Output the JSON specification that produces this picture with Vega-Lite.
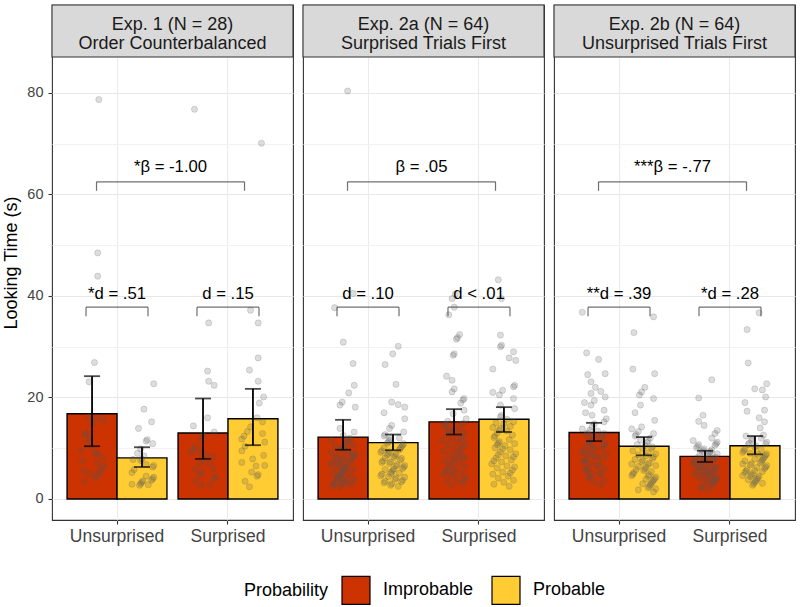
{
"$schema": "https://vega.github.io/schema/vega-lite/v6.json",
"padding": {"left": 2, "top": 3, "right": 4, "bottom": 4},
"background": "white",
"config": {
  "font": "Liberation Sans",
  "view": {"stroke": "#333333", "strokeWidth": 1.1},
  "axis": {"labelFont": "Liberation Sans", "titleFont": "Liberation Sans", "domain": false, "tickColor": "#333333", "tickSize": 4, "tickWidth": 1.1, "labelColor": "#444444", "gridColor": "#ebebeb", "gridWidth": 1.1, "titleFontWeight": "normal", "titleColor": "#000000"},
  "legend": {"orient": "none", "legendX": 192, "legendY": 570, "direction": "horizontal", "titleOrient": "left", "titleFontSize": 18, "labelFontSize": 18, "titleFontWeight": "normal", "titleColor": "#000000", "labelColor": "#000000", "symbolType": "square", "symbolSize": 784, "symbolStrokeColor": "#000000", "symbolStrokeWidth": 1.2, "symbolOpacity": 1, "titlePadding": 12, "labelOffset": 12, "columnPadding": 15, "labelFont": "Liberation Sans", "titleFont": "Liberation Sans"},
  "text": {"font": "Liberation Sans"}
},
"data": {"values": [
{"t":"s","e":"1","l":["Exp. 1 (N = 28)","Order Counterbalanced"]},
{"t":"s","e":"2a","l":["Exp. 2a (N = 64)","Surprised Trials First"]},
{"t":"s","e":"2b","l":["Exp. 2b (N = 64)","Unsurprised Trials First"]},
{"t":"m","e":"1","c":"U","p":"I","v":16.8,"lo":10.4,"hi":24.2},
{"t":"m","e":"1","c":"U","p":"P","v":8.1,"lo":6.3,"hi":10.2},
{"t":"m","e":"1","c":"S","p":"I","v":13.0,"lo":7.9,"hi":19.8},
{"t":"m","e":"1","c":"S","p":"P","v":15.8,"lo":10.6,"hi":21.7},
{"t":"m","e":"2a","c":"U","p":"I","v":12.2,"lo":9.7,"hi":15.6},
{"t":"m","e":"2a","c":"U","p":"P","v":11.1,"lo":9.6,"hi":12.7},
{"t":"m","e":"2a","c":"S","p":"I","v":15.2,"lo":12.7,"hi":17.7},
{"t":"m","e":"2a","c":"S","p":"P","v":15.7,"lo":13.2,"hi":18.1},
{"t":"m","e":"2b","c":"U","p":"I","v":13.1,"lo":11.4,"hi":15.0},
{"t":"m","e":"2b","c":"U","p":"P","v":10.4,"lo":8.6,"hi":12.2},
{"t":"m","e":"2b","c":"S","p":"I","v":8.4,"lo":7.3,"hi":9.5},
{"t":"m","e":"2b","c":"S","p":"P","v":10.5,"lo":8.8,"hi":12.4},
{"t":"d","e":"1","c":"U","l":"*d = .51"},
{"t":"d","e":"1","c":"S","l":"d = .15"},
{"t":"d","e":"2a","c":"U","l":"d = .10"},
{"t":"d","e":"2a","c":"S","l":"d < .01"},
{"t":"d","e":"2b","c":"U","l":"**d = .39"},
{"t":"d","e":"2b","c":"S","l":"*d = .28"},
{"t":"b","e":"1","l":"*β = -1.00"},
{"t":"b","e":"2a","l":"β = .05"},
{"t":"b","e":"2b","l":"***β = -.77"},
{"e":"1","c":"U","p":"I","v":78.7},{"e":"1","c":"U","p":"I","v":48.5},{"e":"1","c":"U","p":"I","v":43.9},{"e":"1","c":"U","p":"I","v":26.9},{"e":"1","c":"U","p":"I","v":23.1},{"e":"1","c":"U","p":"I","v":16.2},{"e":"1","c":"U","p":"I","v":16.0},{"e":"1","c":"U","p":"I","v":14.8},{"e":"1","c":"U","p":"I","v":12.7},{"e":"1","c":"U","p":"I","v":11.9},{"e":"1","c":"U","p":"I","v":10.2},{"e":"1","c":"U","p":"I","v":8.8},{"e":"1","c":"U","p":"I","v":9.1},{"e":"1","c":"U","p":"I","v":8.3},{"e":"1","c":"U","p":"I","v":7.1},{"e":"1","c":"U","p":"I","v":6.6},{"e":"1","c":"U","p":"I","v":5.5},{"e":"1","c":"U","p":"I","v":5.4},{"e":"1","c":"U","p":"I","v":4.8},{"e":"1","c":"U","p":"I","v":4.2},{"e":"1","c":"U","p":"I","v":6.0},{"e":"1","c":"U","p":"I","v":13.0},{"e":"1","c":"U","p":"I","v":9.5},{"e":"1","c":"U","p":"I","v":7.5},{"e":"1","c":"U","p":"I","v":5.0},{"e":"1","c":"U","p":"I","v":3.5},{"e":"1","c":"U","p":"I","v":11.0},{"e":"1","c":"U","p":"I","v":15.5},
{"e":"1","c":"U","p":"P","v":22.7},{"e":"1","c":"U","p":"P","v":17.7},{"e":"1","c":"U","p":"P","v":15.2},{"e":"1","c":"U","p":"P","v":13.9},{"e":"1","c":"U","p":"P","v":11.7},{"e":"1","c":"U","p":"P","v":11.4},{"e":"1","c":"U","p":"P","v":10.9},{"e":"1","c":"U","p":"P","v":9.9},{"e":"1","c":"U","p":"P","v":7.9},{"e":"1","c":"U","p":"P","v":7.8},{"e":"1","c":"U","p":"P","v":7.6},{"e":"1","c":"U","p":"P","v":6.6},{"e":"1","c":"U","p":"P","v":6.3},{"e":"1","c":"U","p":"P","v":4.3},{"e":"1","c":"U","p":"P","v":4.5},{"e":"1","c":"U","p":"P","v":3.7},{"e":"1","c":"U","p":"P","v":2.7},{"e":"1","c":"U","p":"P","v":3.0},{"e":"1","c":"U","p":"P","v":2.8},{"e":"1","c":"U","p":"P","v":5.2},{"e":"1","c":"U","p":"P","v":4.0},{"e":"1","c":"U","p":"P","v":6.8},{"e":"1","c":"U","p":"P","v":3.3},{"e":"1","c":"U","p":"P","v":8.5},{"e":"1","c":"U","p":"P","v":5.8},{"e":"1","c":"U","p":"P","v":3.6},{"e":"1","c":"U","p":"P","v":9.0},{"e":"1","c":"U","p":"P","v":2.9},
{"e":"1","c":"S","p":"I","v":76.8},{"e":"1","c":"S","p":"I","v":34.7},{"e":"1","c":"S","p":"I","v":25.2},{"e":"1","c":"S","p":"I","v":23.2},{"e":"1","c":"S","p":"I","v":22.4},{"e":"1","c":"S","p":"I","v":16.0},{"e":"1","c":"S","p":"I","v":14.4},{"e":"1","c":"S","p":"I","v":13.2},{"e":"1","c":"S","p":"I","v":11.9},{"e":"1","c":"S","p":"I","v":10.4},{"e":"1","c":"S","p":"I","v":7.9},{"e":"1","c":"S","p":"I","v":9.3},{"e":"1","c":"S","p":"I","v":9.2},{"e":"1","c":"S","p":"I","v":8.3},{"e":"1","c":"S","p":"I","v":7.0},{"e":"1","c":"S","p":"I","v":7.1},{"e":"1","c":"S","p":"I","v":4.7},{"e":"1","c":"S","p":"I","v":5.3},{"e":"1","c":"S","p":"I","v":2.8},{"e":"1","c":"S","p":"I","v":2.7},{"e":"1","c":"S","p":"I","v":4.3},{"e":"1","c":"S","p":"I","v":6.0},{"e":"1","c":"S","p":"I","v":3.5},{"e":"1","c":"S","p":"I","v":12.5},{"e":"1","c":"S","p":"I","v":5.8},{"e":"1","c":"S","p":"I","v":9.8},{"e":"1","c":"S","p":"I","v":4.0},{"e":"1","c":"S","p":"I","v":8.8},
{"e":"1","c":"S","p":"P","v":70.1},{"e":"1","c":"S","p":"P","v":37.2},{"e":"1","c":"S","p":"P","v":34.7},{"e":"1","c":"S","p":"P","v":27.8},{"e":"1","c":"S","p":"P","v":25.4},{"e":"1","c":"S","p":"P","v":23.2},{"e":"1","c":"S","p":"P","v":20.1},{"e":"1","c":"S","p":"P","v":18.9},{"e":"1","c":"S","p":"P","v":16.0},{"e":"1","c":"S","p":"P","v":14.2},{"e":"1","c":"S","p":"P","v":12.4},{"e":"1","c":"S","p":"P","v":12.9},{"e":"1","c":"S","p":"P","v":13.3},{"e":"1","c":"S","p":"P","v":11.2},{"e":"1","c":"S","p":"P","v":10.4},{"e":"1","c":"S","p":"P","v":8.6},{"e":"1","c":"S","p":"P","v":7.9},{"e":"1","c":"S","p":"P","v":6.6},{"e":"1","c":"S","p":"P","v":5.3},{"e":"1","c":"S","p":"P","v":4.8},{"e":"1","c":"S","p":"P","v":4.5},{"e":"1","c":"S","p":"P","v":3.5},{"e":"1","c":"S","p":"P","v":2.4},{"e":"1","c":"S","p":"P","v":6.5},{"e":"1","c":"S","p":"P","v":9.5},{"e":"1","c":"S","p":"P","v":15.2},{"e":"1","c":"S","p":"P","v":11.8},{"e":"1","c":"S","p":"P","v":7.2},
{"e":"2a","c":"U","p":"I","v":80.4},{"e":"2a","c":"U","p":"I","v":40.5},{"e":"2a","c":"U","p":"I","v":37.7},{"e":"2a","c":"U","p":"I","v":30.9},{"e":"2a","c":"U","p":"I","v":26.7},{"e":"2a","c":"U","p":"I","v":22.4},{"e":"2a","c":"U","p":"I","v":20.9},{"e":"2a","c":"U","p":"I","v":19.1},{"e":"2a","c":"U","p":"I","v":18.5},{"e":"2a","c":"U","p":"I","v":18.1},{"e":"2a","c":"U","p":"I","v":13.9},{"e":"2a","c":"U","p":"I","v":13.2},{"e":"2a","c":"U","p":"I","v":12.5},
{"e":"2a","c":"U","p":"I","v":12.0},{"e":"2a","c":"U","p":"I","v":11.5},{"e":"2a","c":"U","p":"I","v":11.1},{"e":"2a","c":"U","p":"I","v":10.8},{"e":"2a","c":"U","p":"I","v":10.4},{"e":"2a","c":"U","p":"I","v":10.2},{"e":"2a","c":"U","p":"I","v":9.9},{"e":"2a","c":"U","p":"I","v":9.6},{"e":"2a","c":"U","p":"I","v":9.4},{"e":"2a","c":"U","p":"I","v":9.1},{"e":"2a","c":"U","p":"I","v":8.9},{"e":"2a","c":"U","p":"I","v":8.6},{"e":"2a","c":"U","p":"I","v":8.4},{"e":"2a","c":"U","p":"I","v":8.1},{"e":"2a","c":"U","p":"I","v":7.9},{"e":"2a","c":"U","p":"I","v":7.7},{"e":"2a","c":"U","p":"I","v":7.4},{"e":"2a","c":"U","p":"I","v":7.2},{"e":"2a","c":"U","p":"I","v":7.0},{"e":"2a","c":"U","p":"I","v":6.7},{"e":"2a","c":"U","p":"I","v":6.5},{"e":"2a","c":"U","p":"I","v":6.2},{"e":"2a","c":"U","p":"I","v":6.0},{"e":"2a","c":"U","p":"I","v":5.8},{"e":"2a","c":"U","p":"I","v":5.6},{"e":"2a","c":"U","p":"I","v":5.3},{"e":"2a","c":"U","p":"I","v":5.1},{"e":"2a","c":"U","p":"I","v":4.9},{"e":"2a","c":"U","p":"I","v":4.7},{"e":"2a","c":"U","p":"I","v":4.4},{"e":"2a","c":"U","p":"I","v":4.2},{"e":"2a","c":"U","p":"I","v":4.0},{"e":"2a","c":"U","p":"I","v":3.8},{"e":"2a","c":"U","p":"I","v":3.6},{"e":"2a","c":"U","p":"I","v":3.4},{"e":"2a","c":"U","p":"I","v":3.2},{"e":"2a","c":"U","p":"I","v":3.0},{"e":"2a","c":"U","p":"I","v":2.8},{"e":"2a","c":"U","p":"I","v":2.6},{"e":"2a","c":"U","p":"I","v":2.4},{"e":"2a","c":"U","p":"I","v":11.7},{"e":"2a","c":"U","p":"I","v":10.6},{"e":"2a","c":"U","p":"I","v":9.2},{"e":"2a","c":"U","p":"I","v":8.3},{"e":"2a","c":"U","p":"I","v":7.6},{"e":"2a","c":"U","p":"I","v":6.9},{"e":"2a","c":"U","p":"I","v":5.9},{"e":"2a","c":"U","p":"I","v":5.0},{"e":"2a","c":"U","p":"I","v":4.1},{"e":"2a","c":"U","p":"I","v":3.3},{"e":"2a","c":"U","p":"I","v":2.9},
{"e":"2a","c":"U","p":"P","v":30.1},{"e":"2a","c":"U","p":"P","v":28.6},{"e":"2a","c":"U","p":"P","v":26.5},{"e":"2a","c":"U","p":"P","v":22.6},{"e":"2a","c":"U","p":"P","v":19.1},{"e":"2a","c":"U","p":"P","v":18.6},{"e":"2a","c":"U","p":"P","v":18.1},{"e":"2a","c":"U","p":"P","v":15.8},{"e":"2a","c":"U","p":"P","v":13.9},{"e":"2a","c":"U","p":"P","v":13.2},{"e":"2a","c":"U","p":"P","v":14.5},{"e":"2a","c":"U","p":"P","v":17.0},
{"e":"2a","c":"U","p":"P","v":12.4},{"e":"2a","c":"U","p":"P","v":12.0},{"e":"2a","c":"U","p":"P","v":11.6},{"e":"2a","c":"U","p":"P","v":11.3},{"e":"2a","c":"U","p":"P","v":10.9},{"e":"2a","c":"U","p":"P","v":10.6},{"e":"2a","c":"U","p":"P","v":10.3},{"e":"2a","c":"U","p":"P","v":10.0},{"e":"2a","c":"U","p":"P","v":9.7},{"e":"2a","c":"U","p":"P","v":9.5},{"e":"2a","c":"U","p":"P","v":9.2},{"e":"2a","c":"U","p":"P","v":9.0},{"e":"2a","c":"U","p":"P","v":8.7},{"e":"2a","c":"U","p":"P","v":8.5},{"e":"2a","c":"U","p":"P","v":8.2},{"e":"2a","c":"U","p":"P","v":8.0},{"e":"2a","c":"U","p":"P","v":7.7},{"e":"2a","c":"U","p":"P","v":7.5},{"e":"2a","c":"U","p":"P","v":7.2},{"e":"2a","c":"U","p":"P","v":7.0},{"e":"2a","c":"U","p":"P","v":6.8},{"e":"2a","c":"U","p":"P","v":6.5},{"e":"2a","c":"U","p":"P","v":6.3},{"e":"2a","c":"U","p":"P","v":6.0},{"e":"2a","c":"U","p":"P","v":5.8},{"e":"2a","c":"U","p":"P","v":5.6},{"e":"2a","c":"U","p":"P","v":5.3},{"e":"2a","c":"U","p":"P","v":5.1},{"e":"2a","c":"U","p":"P","v":4.9},{"e":"2a","c":"U","p":"P","v":4.6},{"e":"2a","c":"U","p":"P","v":4.4},{"e":"2a","c":"U","p":"P","v":4.2},{"e":"2a","c":"U","p":"P","v":3.9},{"e":"2a","c":"U","p":"P","v":3.7},{"e":"2a","c":"U","p":"P","v":3.5},{"e":"2a","c":"U","p":"P","v":3.2},{"e":"2a","c":"U","p":"P","v":3.0},{"e":"2a","c":"U","p":"P","v":2.7},{"e":"2a","c":"U","p":"P","v":12.7},{"e":"2a","c":"U","p":"P","v":11.9},{"e":"2a","c":"U","p":"P","v":11.0},{"e":"2a","c":"U","p":"P","v":10.1},{"e":"2a","c":"U","p":"P","v":9.3},{"e":"2a","c":"U","p":"P","v":8.8},{"e":"2a","c":"U","p":"P","v":8.1},{"e":"2a","c":"U","p":"P","v":7.3},{"e":"2a","c":"U","p":"P","v":6.6},{"e":"2a","c":"U","p":"P","v":5.9},{"e":"2a","c":"U","p":"P","v":5.0},{"e":"2a","c":"U","p":"P","v":4.3},{"e":"2a","c":"U","p":"P","v":3.4},{"e":"2a","c":"U","p":"P","v":2.5},
{"e":"2a","c":"S","p":"I","v":40.4},{"e":"2a","c":"S","p":"I","v":39.5},{"e":"2a","c":"S","p":"I","v":37.8},{"e":"2a","c":"S","p":"I","v":36.3},{"e":"2a","c":"S","p":"I","v":32.4},{"e":"2a","c":"S","p":"I","v":31.8},{"e":"2a","c":"S","p":"I","v":31.5},{"e":"2a","c":"S","p":"I","v":28.6},{"e":"2a","c":"S","p":"I","v":28.3},{"e":"2a","c":"S","p":"I","v":24.2},{"e":"2a","c":"S","p":"I","v":23.4},{"e":"2a","c":"S","p":"I","v":21.7},{"e":"2a","c":"S","p":"I","v":21.1},{"e":"2a","c":"S","p":"I","v":19.8},{"e":"2a","c":"S","p":"I","v":19.5},{"e":"2a","c":"S","p":"I","v":16.8},{"e":"2a","c":"S","p":"I","v":17.5},{"e":"2a","c":"S","p":"I","v":18.9},
{"e":"2a","c":"S","p":"I","v":15.8},{"e":"2a","c":"S","p":"I","v":15.3},{"e":"2a","c":"S","p":"I","v":14.9},{"e":"2a","c":"S","p":"I","v":14.4},{"e":"2a","c":"S","p":"I","v":14.0},{"e":"2a","c":"S","p":"I","v":13.6},{"e":"2a","c":"S","p":"I","v":13.1},{"e":"2a","c":"S","p":"I","v":12.7},{"e":"2a","c":"S","p":"I","v":12.3},{"e":"2a","c":"S","p":"I","v":11.9},{"e":"2a","c":"S","p":"I","v":11.5},{"e":"2a","c":"S","p":"I","v":11.1},{"e":"2a","c":"S","p":"I","v":10.7},{"e":"2a","c":"S","p":"I","v":10.3},{"e":"2a","c":"S","p":"I","v":9.9},{"e":"2a","c":"S","p":"I","v":9.5},{"e":"2a","c":"S","p":"I","v":9.1},{"e":"2a","c":"S","p":"I","v":8.7},{"e":"2a","c":"S","p":"I","v":8.3},{"e":"2a","c":"S","p":"I","v":7.9},{"e":"2a","c":"S","p":"I","v":7.5},{"e":"2a","c":"S","p":"I","v":7.1},{"e":"2a","c":"S","p":"I","v":6.7},{"e":"2a","c":"S","p":"I","v":6.3},{"e":"2a","c":"S","p":"I","v":5.9},{"e":"2a","c":"S","p":"I","v":5.5},{"e":"2a","c":"S","p":"I","v":5.1},{"e":"2a","c":"S","p":"I","v":4.7},{"e":"2a","c":"S","p":"I","v":4.3},{"e":"2a","c":"S","p":"I","v":3.9},{"e":"2a","c":"S","p":"I","v":3.5},{"e":"2a","c":"S","p":"I","v":3.1},{"e":"2a","c":"S","p":"I","v":2.7},{"e":"2a","c":"S","p":"I","v":14.7},{"e":"2a","c":"S","p":"I","v":13.3},{"e":"2a","c":"S","p":"I","v":12.0},{"e":"2a","c":"S","p":"I","v":10.9},{"e":"2a","c":"S","p":"I","v":9.7},{"e":"2a","c":"S","p":"I","v":8.5},{"e":"2a","c":"S","p":"I","v":7.3},{"e":"2a","c":"S","p":"I","v":6.1},{"e":"2a","c":"S","p":"I","v":4.9},{"e":"2a","c":"S","p":"I","v":3.7},{"e":"2a","c":"S","p":"I","v":12.9},{"e":"2a","c":"S","p":"I","v":8.0},{"e":"2a","c":"S","p":"I","v":5.3},
{"e":"2a","c":"S","p":"P","v":43.2},{"e":"2a","c":"S","p":"P","v":39.5},{"e":"2a","c":"S","p":"P","v":32.3},{"e":"2a","c":"S","p":"P","v":30.3},{"e":"2a","c":"S","p":"P","v":30.0},{"e":"2a","c":"S","p":"P","v":29.0},{"e":"2a","c":"S","p":"P","v":27.3},{"e":"2a","c":"S","p":"P","v":27.8},{"e":"2a","c":"S","p":"P","v":25.6},{"e":"2a","c":"S","p":"P","v":22.4},{"e":"2a","c":"S","p":"P","v":21.4},{"e":"2a","c":"S","p":"P","v":22.1},{"e":"2a","c":"S","p":"P","v":19.8},{"e":"2a","c":"S","p":"P","v":18.5},{"e":"2a","c":"S","p":"P","v":20.5},{"e":"2a","c":"S","p":"P","v":21.0},{"e":"2a","c":"S","p":"P","v":17.8},{"e":"2a","c":"S","p":"P","v":16.5},
{"e":"2a","c":"S","p":"P","v":16.2},{"e":"2a","c":"S","p":"P","v":15.7},{"e":"2a","c":"S","p":"P","v":15.2},{"e":"2a","c":"S","p":"P","v":14.8},{"e":"2a","c":"S","p":"P","v":14.3},{"e":"2a","c":"S","p":"P","v":13.9},{"e":"2a","c":"S","p":"P","v":13.4},{"e":"2a","c":"S","p":"P","v":13.0},{"e":"2a","c":"S","p":"P","v":12.6},{"e":"2a","c":"S","p":"P","v":12.1},{"e":"2a","c":"S","p":"P","v":11.7},{"e":"2a","c":"S","p":"P","v":11.3},{"e":"2a","c":"S","p":"P","v":10.9},{"e":"2a","c":"S","p":"P","v":10.5},{"e":"2a","c":"S","p":"P","v":10.1},{"e":"2a","c":"S","p":"P","v":9.7},{"e":"2a","c":"S","p":"P","v":9.3},{"e":"2a","c":"S","p":"P","v":8.9},{"e":"2a","c":"S","p":"P","v":8.5},{"e":"2a","c":"S","p":"P","v":8.1},{"e":"2a","c":"S","p":"P","v":7.7},{"e":"2a","c":"S","p":"P","v":7.3},{"e":"2a","c":"S","p":"P","v":6.9},{"e":"2a","c":"S","p":"P","v":6.5},{"e":"2a","c":"S","p":"P","v":6.1},{"e":"2a","c":"S","p":"P","v":5.7},{"e":"2a","c":"S","p":"P","v":5.3},{"e":"2a","c":"S","p":"P","v":4.9},{"e":"2a","c":"S","p":"P","v":4.5},{"e":"2a","c":"S","p":"P","v":4.1},{"e":"2a","c":"S","p":"P","v":3.7},{"e":"2a","c":"S","p":"P","v":3.3},{"e":"2a","c":"S","p":"P","v":2.9},{"e":"2a","c":"S","p":"P","v":2.5},{"e":"2a","c":"S","p":"P","v":15.0},{"e":"2a","c":"S","p":"P","v":13.6},{"e":"2a","c":"S","p":"P","v":12.4},{"e":"2a","c":"S","p":"P","v":11.0},{"e":"2a","c":"S","p":"P","v":9.9},{"e":"2a","c":"S","p":"P","v":8.7},{"e":"2a","c":"S","p":"P","v":7.5},{"e":"2a","c":"S","p":"P","v":6.3},{"e":"2a","c":"S","p":"P","v":5.1},{"e":"2a","c":"S","p":"P","v":14.1},{"e":"2a","c":"S","p":"P","v":10.7},{"e":"2a","c":"S","p":"P","v":8.3},
{"e":"2b","c":"U","p":"I","v":36.8},{"e":"2b","c":"U","p":"I","v":28.8},{"e":"2b","c":"U","p":"I","v":27.5},{"e":"2b","c":"U","p":"I","v":24.7},{"e":"2b","c":"U","p":"I","v":24.5},{"e":"2b","c":"U","p":"I","v":23.1},{"e":"2b","c":"U","p":"I","v":21.2},{"e":"2b","c":"U","p":"I","v":20.1},{"e":"2b","c":"U","p":"I","v":19.4},{"e":"2b","c":"U","p":"I","v":18.5},{"e":"2b","c":"U","p":"I","v":17.5},{"e":"2b","c":"U","p":"I","v":16.5},{"e":"2b","c":"U","p":"I","v":22.0},{"e":"2b","c":"U","p":"I","v":20.8},{"e":"2b","c":"U","p":"I","v":19.0},{"e":"2b","c":"U","p":"I","v":17.0},{"e":"2b","c":"U","p":"I","v":15.8},{"e":"2b","c":"U","p":"I","v":15.2},{"e":"2b","c":"U","p":"I","v":14.8},
{"e":"2b","c":"U","p":"I","v":14.2},{"e":"2b","c":"U","p":"I","v":13.8},{"e":"2b","c":"U","p":"I","v":13.4},{"e":"2b","c":"U","p":"I","v":13.0},{"e":"2b","c":"U","p":"I","v":12.7},{"e":"2b","c":"U","p":"I","v":12.3},{"e":"2b","c":"U","p":"I","v":12.0},{"e":"2b","c":"U","p":"I","v":11.6},{"e":"2b","c":"U","p":"I","v":11.3},{"e":"2b","c":"U","p":"I","v":10.9},{"e":"2b","c":"U","p":"I","v":10.6},{"e":"2b","c":"U","p":"I","v":10.2},{"e":"2b","c":"U","p":"I","v":9.9},{"e":"2b","c":"U","p":"I","v":9.5},{"e":"2b","c":"U","p":"I","v":9.2},{"e":"2b","c":"U","p":"I","v":8.9},{"e":"2b","c":"U","p":"I","v":8.5},{"e":"2b","c":"U","p":"I","v":8.2},{"e":"2b","c":"U","p":"I","v":7.8},{"e":"2b","c":"U","p":"I","v":7.5},{"e":"2b","c":"U","p":"I","v":7.2},{"e":"2b","c":"U","p":"I","v":6.8},{"e":"2b","c":"U","p":"I","v":6.5},{"e":"2b","c":"U","p":"I","v":6.1},{"e":"2b","c":"U","p":"I","v":5.8},{"e":"2b","c":"U","p":"I","v":5.5},{"e":"2b","c":"U","p":"I","v":5.1},{"e":"2b","c":"U","p":"I","v":4.8},{"e":"2b","c":"U","p":"I","v":4.4},{"e":"2b","c":"U","p":"I","v":4.1},{"e":"2b","c":"U","p":"I","v":3.7},{"e":"2b","c":"U","p":"I","v":3.3},{"e":"2b","c":"U","p":"I","v":2.8},{"e":"2b","c":"U","p":"I","v":13.6},{"e":"2b","c":"U","p":"I","v":12.5},{"e":"2b","c":"U","p":"I","v":11.0},{"e":"2b","c":"U","p":"I","v":10.0},{"e":"2b","c":"U","p":"I","v":9.0},{"e":"2b","c":"U","p":"I","v":8.0},{"e":"2b","c":"U","p":"I","v":7.0},{"e":"2b","c":"U","p":"I","v":6.0},{"e":"2b","c":"U","p":"I","v":5.0},{"e":"2b","c":"U","p":"I","v":12.9},{"e":"2b","c":"U","p":"I","v":10.4},{"e":"2b","c":"U","p":"I","v":8.7},
{"e":"2b","c":"U","p":"P","v":35.9},{"e":"2b","c":"U","p":"P","v":32.8},{"e":"2b","c":"U","p":"P","v":25.6},{"e":"2b","c":"U","p":"P","v":24.7},{"e":"2b","c":"U","p":"P","v":21.1},{"e":"2b","c":"U","p":"P","v":19.8},{"e":"2b","c":"U","p":"P","v":18.5},{"e":"2b","c":"U","p":"P","v":15.5},{"e":"2b","c":"U","p":"P","v":14.2},{"e":"2b","c":"U","p":"P","v":22.0},{"e":"2b","c":"U","p":"P","v":20.5},{"e":"2b","c":"U","p":"P","v":17.0},
{"e":"2b","c":"U","p":"P","v":13.8},{"e":"2b","c":"U","p":"P","v":13.3},{"e":"2b","c":"U","p":"P","v":12.9},{"e":"2b","c":"U","p":"P","v":12.4},{"e":"2b","c":"U","p":"P","v":12.0},{"e":"2b","c":"U","p":"P","v":11.6},{"e":"2b","c":"U","p":"P","v":11.1},{"e":"2b","c":"U","p":"P","v":10.7},{"e":"2b","c":"U","p":"P","v":10.3},{"e":"2b","c":"U","p":"P","v":9.9},{"e":"2b","c":"U","p":"P","v":9.5},{"e":"2b","c":"U","p":"P","v":9.1},{"e":"2b","c":"U","p":"P","v":8.7},{"e":"2b","c":"U","p":"P","v":8.3},{"e":"2b","c":"U","p":"P","v":8.0},{"e":"2b","c":"U","p":"P","v":7.6},{"e":"2b","c":"U","p":"P","v":7.3},{"e":"2b","c":"U","p":"P","v":6.9},{"e":"2b","c":"U","p":"P","v":6.6},{"e":"2b","c":"U","p":"P","v":6.2},{"e":"2b","c":"U","p":"P","v":5.9},{"e":"2b","c":"U","p":"P","v":5.6},{"e":"2b","c":"U","p":"P","v":5.2},{"e":"2b","c":"U","p":"P","v":4.9},{"e":"2b","c":"U","p":"P","v":4.6},{"e":"2b","c":"U","p":"P","v":4.3},{"e":"2b","c":"U","p":"P","v":4.0},{"e":"2b","c":"U","p":"P","v":3.7},{"e":"2b","c":"U","p":"P","v":3.4},{"e":"2b","c":"U","p":"P","v":3.1},{"e":"2b","c":"U","p":"P","v":2.8},{"e":"2b","c":"U","p":"P","v":2.5},{"e":"2b","c":"U","p":"P","v":2.2},{"e":"2b","c":"U","p":"P","v":1.8},{"e":"2b","c":"U","p":"P","v":1.4},{"e":"2b","c":"U","p":"P","v":12.7},{"e":"2b","c":"U","p":"P","v":11.4},{"e":"2b","c":"U","p":"P","v":10.0},{"e":"2b","c":"U","p":"P","v":8.9},{"e":"2b","c":"U","p":"P","v":7.8},{"e":"2b","c":"U","p":"P","v":6.8},{"e":"2b","c":"U","p":"P","v":5.8},{"e":"2b","c":"U","p":"P","v":4.8},{"e":"2b","c":"U","p":"P","v":3.9},{"e":"2b","c":"U","p":"P","v":3.0},{"e":"2b","c":"U","p":"P","v":10.5},{"e":"2b","c":"U","p":"P","v":8.5},{"e":"2b","c":"U","p":"P","v":7.1},{"e":"2b","c":"U","p":"P","v":6.4},{"e":"2b","c":"U","p":"P","v":5.4},{"e":"2b","c":"U","p":"P","v":4.5},{"e":"2b","c":"U","p":"P","v":2.0},
{"e":"2b","c":"S","p":"I","v":23.5},{"e":"2b","c":"S","p":"I","v":19.9},{"e":"2b","c":"S","p":"I","v":16.5},{"e":"2b","c":"S","p":"I","v":15.3},{"e":"2b","c":"S","p":"I","v":14.5},{"e":"2b","c":"S","p":"I","v":12.9},{"e":"2b","c":"S","p":"I","v":13.5},{"e":"2b","c":"S","p":"I","v":12.0},{"e":"2b","c":"S","p":"I","v":11.5},
{"e":"2b","c":"S","p":"I","v":11.2},{"e":"2b","c":"S","p":"I","v":10.9},{"e":"2b","c":"S","p":"I","v":10.6},{"e":"2b","c":"S","p":"I","v":10.4},{"e":"2b","c":"S","p":"I","v":10.1},{"e":"2b","c":"S","p":"I","v":9.9},{"e":"2b","c":"S","p":"I","v":9.6},{"e":"2b","c":"S","p":"I","v":9.4},{"e":"2b","c":"S","p":"I","v":9.1},{"e":"2b","c":"S","p":"I","v":8.9},{"e":"2b","c":"S","p":"I","v":8.7},{"e":"2b","c":"S","p":"I","v":8.5},{"e":"2b","c":"S","p":"I","v":8.3},{"e":"2b","c":"S","p":"I","v":8.1},{"e":"2b","c":"S","p":"I","v":7.9},{"e":"2b","c":"S","p":"I","v":7.7},{"e":"2b","c":"S","p":"I","v":7.5},{"e":"2b","c":"S","p":"I","v":7.3},{"e":"2b","c":"S","p":"I","v":7.1},{"e":"2b","c":"S","p":"I","v":6.9},{"e":"2b","c":"S","p":"I","v":6.7},{"e":"2b","c":"S","p":"I","v":6.5},{"e":"2b","c":"S","p":"I","v":6.3},{"e":"2b","c":"S","p":"I","v":6.1},{"e":"2b","c":"S","p":"I","v":5.9},{"e":"2b","c":"S","p":"I","v":5.7},{"e":"2b","c":"S","p":"I","v":5.5},{"e":"2b","c":"S","p":"I","v":5.3},{"e":"2b","c":"S","p":"I","v":5.1},{"e":"2b","c":"S","p":"I","v":4.9},{"e":"2b","c":"S","p":"I","v":4.7},{"e":"2b","c":"S","p":"I","v":4.5},{"e":"2b","c":"S","p":"I","v":4.3},{"e":"2b","c":"S","p":"I","v":4.1},{"e":"2b","c":"S","p":"I","v":3.9},{"e":"2b","c":"S","p":"I","v":3.7},{"e":"2b","c":"S","p":"I","v":3.4},{"e":"2b","c":"S","p":"I","v":3.1},{"e":"2b","c":"S","p":"I","v":2.8},{"e":"2b","c":"S","p":"I","v":2.4},{"e":"2b","c":"S","p":"I","v":1.9},{"e":"2b","c":"S","p":"I","v":10.7},{"e":"2b","c":"S","p":"I","v":9.7},{"e":"2b","c":"S","p":"I","v":8.8},{"e":"2b","c":"S","p":"I","v":8.0},{"e":"2b","c":"S","p":"I","v":7.2},{"e":"2b","c":"S","p":"I","v":6.4},{"e":"2b","c":"S","p":"I","v":5.6},{"e":"2b","c":"S","p":"I","v":4.8},{"e":"2b","c":"S","p":"I","v":4.0},{"e":"2b","c":"S","p":"I","v":9.3},{"e":"2b","c":"S","p":"I","v":7.6},{"e":"2b","c":"S","p":"I","v":6.0},{"e":"2b","c":"S","p":"I","v":3.3},{"e":"2b","c":"S","p":"I","v":2.1},
{"e":"2b","c":"S","p":"P","v":36.7},{"e":"2b","c":"S","p":"P","v":33.4},{"e":"2b","c":"S","p":"P","v":26.8},{"e":"2b","c":"S","p":"P","v":22.7},{"e":"2b","c":"S","p":"P","v":21.7},{"e":"2b","c":"S","p":"P","v":21.5},{"e":"2b","c":"S","p":"P","v":20.1},{"e":"2b","c":"S","p":"P","v":17.5},{"e":"2b","c":"S","p":"P","v":17.3},{"e":"2b","c":"S","p":"P","v":15.2},{"e":"2b","c":"S","p":"P","v":12.6},{"e":"2b","c":"S","p":"P","v":19.0},{"e":"2b","c":"S","p":"P","v":16.0},{"e":"2b","c":"S","p":"P","v":14.0},
{"e":"2b","c":"S","p":"P","v":12.4},{"e":"2b","c":"S","p":"P","v":12.0},{"e":"2b","c":"S","p":"P","v":11.6},{"e":"2b","c":"S","p":"P","v":11.2},{"e":"2b","c":"S","p":"P","v":10.9},{"e":"2b","c":"S","p":"P","v":10.5},{"e":"2b","c":"S","p":"P","v":10.2},{"e":"2b","c":"S","p":"P","v":9.8},{"e":"2b","c":"S","p":"P","v":9.5},{"e":"2b","c":"S","p":"P","v":9.2},{"e":"2b","c":"S","p":"P","v":8.9},{"e":"2b","c":"S","p":"P","v":8.6},{"e":"2b","c":"S","p":"P","v":8.3},{"e":"2b","c":"S","p":"P","v":8.0},{"e":"2b","c":"S","p":"P","v":7.7},{"e":"2b","c":"S","p":"P","v":7.4},{"e":"2b","c":"S","p":"P","v":7.1},{"e":"2b","c":"S","p":"P","v":6.9},{"e":"2b","c":"S","p":"P","v":6.6},{"e":"2b","c":"S","p":"P","v":6.3},{"e":"2b","c":"S","p":"P","v":6.0},{"e":"2b","c":"S","p":"P","v":5.8},{"e":"2b","c":"S","p":"P","v":5.5},{"e":"2b","c":"S","p":"P","v":5.2},{"e":"2b","c":"S","p":"P","v":5.0},{"e":"2b","c":"S","p":"P","v":4.7},{"e":"2b","c":"S","p":"P","v":4.4},{"e":"2b","c":"S","p":"P","v":4.2},{"e":"2b","c":"S","p":"P","v":3.9},{"e":"2b","c":"S","p":"P","v":3.6},{"e":"2b","c":"S","p":"P","v":3.3},{"e":"2b","c":"S","p":"P","v":3.0},{"e":"2b","c":"S","p":"P","v":2.7},{"e":"2b","c":"S","p":"P","v":11.9},{"e":"2b","c":"S","p":"P","v":10.7},{"e":"2b","c":"S","p":"P","v":9.7},{"e":"2b","c":"S","p":"P","v":8.8},{"e":"2b","c":"S","p":"P","v":7.9},{"e":"2b","c":"S","p":"P","v":7.0},{"e":"2b","c":"S","p":"P","v":6.2},{"e":"2b","c":"S","p":"P","v":5.4},{"e":"2b","c":"S","p":"P","v":4.6},{"e":"2b","c":"S","p":"P","v":3.8},{"e":"2b","c":"S","p":"P","v":11.0},{"e":"2b","c":"S","p":"P","v":9.0},{"e":"2b","c":"S","p":"P","v":7.5},{"e":"2b","c":"S","p":"P","v":6.7},{"e":"2b","c":"S","p":"P","v":5.6},{"e":"2b","c":"S","p":"P","v":4.5},{"e":"2b","c":"S","p":"P","v":3.1}
]},
"facet": {"column": {"field": "e", "type": "nominal", "title": null, "header": {"labels": false, "title": null}}},
"spacing": 10,
"bounds": "flush",
"resolve": {"scale": {"x": "shared", "y": "shared"}},
"spec": {
  "width": 241,
  "height": 515,
  "layer": [
    {"transform": [{"filter": "datum.t === 'm'"}],
     "mark": {"type": "bar", "stroke": "#000000", "strokeWidth": 1.4},
     "encoding": {
       "x": {"field": "c", "type": "nominal", "scale": {"domain": ["U", "S"], "paddingInner": 0.1, "paddingOuter": 0.136},
             "axis": {"title": null, "labelExpr": "datum.value === 'U' ? 'Unsurprised' : 'Surprised'", "labelFontSize": 17.5, "labelPadding": 3, "labelAngle": 0, "grid": true, "bandPosition": 0.5}},
       "xOffset": {"field": "p", "type": "nominal", "scale": {"domain": ["I", "P"], "paddingInner": 0, "paddingOuter": 0}},
       "y": {"field": "v", "type": "quantitative", "scale": {"domain": [-4.14, 97.34], "nice": false, "zero": false},
             "axis": {"title": "Looking Time (s)", "titleFontSize": 18, "titlePadding": 6, "values": [0, 10, 20, 30, 40, 50, 60, 70, 80], "labelExpr": "datum.value % 20 === 0 ? datum.label : ''", "labelFontSize": 14.5, "labelPadding": 5, "grid": true,
                      "tickOpacity": {"condition": {"test": "datum.value % 20 !== 0", "value": 0}, "value": 1},
                      "gridColor": {"condition": {"test": "datum.value % 20 === 0", "value": "#e8e8e8"}, "value": "#f2f2f2"}}},
       "color": {"field": "p", "type": "nominal", "scale": {"domain": ["I", "P"], "range": ["#CC3300", "#FFCC33"]},
                 "legend": {"title": "Probability", "labelExpr": "datum.value === 'I' ? 'Improbable' : 'Probable'"}}
     }},
    {"transform": [{"filter": "datum.t === 's'"}],
     "mark": {"type": "rect", "fill": "#d9d9d9", "stroke": "#333333", "strokeWidth": 1.1},
     "encoding": {"y": {"datum": 87.09, "type": "quantitative"}, "y2": {"datum": 97.34}}},
    {"transform": [{"filter": "datum.t === 's'"}],
     "mark": {"type": "text", "fontSize": 18, "color": "#1a1a1a", "baseline": "alphabetic", "lineHeight": 19},
     "encoding": {"y": {"datum": 92.42, "type": "quantitative"}, "text": {"field": "l"}}},
    {"transform": [{"filter": "!datum.t"}],
     "mark": {"type": "circle", "size": 38, "fill": "#555555", "fillOpacity": 0.2, "stroke": "#555555", "strokeOpacity": 0.22, "strokeWidth": 0.9,
              "xOffset": {"expr": "(datum.p === 'I' ? -24.75 : 24.75) + (((datum.v * 1000) % 23) / 22 - 0.5) * 24"}},
     "encoding": {"x": {"field": "c", "type": "nominal"}, "y": {"field": "v", "type": "quantitative"}}},
    {"transform": [{"filter": "datum.t === 'm'"}],
     "mark": {"type": "rule", "color": "#000000", "strokeWidth": 1.8},
     "encoding": {"x": {"field": "c", "type": "nominal"}, "xOffset": {"field": "p", "type": "nominal"}, "y": {"field": "lo", "type": "quantitative"}, "y2": {"field": "hi"}}},
    {"transform": [{"filter": "datum.t === 'm'"}],
     "mark": {"type": "tick", "orient": "horizontal", "color": "#000000", "size": 16, "thickness": 1.8},
     "encoding": {"x": {"field": "c", "type": "nominal"}, "xOffset": {"field": "p", "type": "nominal"}, "y": {"field": "lo", "type": "quantitative"}}},
    {"transform": [{"filter": "datum.t === 'm'"}],
     "mark": {"type": "tick", "orient": "horizontal", "color": "#000000", "size": 16, "thickness": 1.8},
     "encoding": {"x": {"field": "c", "type": "nominal"}, "xOffset": {"field": "p", "type": "nominal"}, "y": {"field": "hi", "type": "quantitative"}}},
    {"transform": [{"filter": "datum.t === 'd'"}],
     "mark": {"type": "tick", "orient": "horizontal", "color": "#333333", "size": 62, "thickness": 1.2},
     "encoding": {"x": {"field": "c", "type": "nominal"}, "y": {"datum": 37.8, "type": "quantitative"}}},
    {"transform": [{"filter": "datum.t === 'd'"}],
     "mark": {"type": "tick", "orient": "vertical", "color": "#333333", "size": 9, "thickness": 1.2, "xOffset": -31, "yOffset": 4.5},
     "encoding": {"x": {"field": "c", "type": "nominal"}, "y": {"datum": 37.8, "type": "quantitative"}}},
    {"transform": [{"filter": "datum.t === 'd'"}],
     "mark": {"type": "tick", "orient": "vertical", "color": "#333333", "size": 9, "thickness": 1.2, "xOffset": 31, "yOffset": 4.5},
     "encoding": {"x": {"field": "c", "type": "nominal"}, "y": {"datum": 37.8, "type": "quantitative"}}},
    {"transform": [{"filter": "datum.t === 'd'"}],
     "mark": {"type": "text", "fontSize": 16.7, "color": "#000000", "baseline": "alphabetic", "dy": -8},
     "encoding": {"x": {"field": "c", "type": "nominal"}, "y": {"datum": 37.8, "type": "quantitative"}, "text": {"field": "l"}}},
    {"transform": [{"filter": "datum.t === 'b'"}],
     "mark": {"type": "tick", "orient": "horizontal", "color": "#333333", "size": 148, "thickness": 1.2, "xOffset": 53.5},
     "encoding": {"x": {"datum": "U"}, "y": {"datum": 62.5, "type": "quantitative"}}},
    {"transform": [{"filter": "datum.t === 'b'"}],
     "mark": {"type": "tick", "orient": "vertical", "color": "#333333", "size": 9, "thickness": 1.2, "xOffset": -20.5, "yOffset": 4.5},
     "encoding": {"x": {"datum": "U"}, "y": {"datum": 62.5, "type": "quantitative"}}},
    {"transform": [{"filter": "datum.t === 'b'"}],
     "mark": {"type": "tick", "orient": "vertical", "color": "#333333", "size": 9, "thickness": 1.2, "xOffset": 127.5, "yOffset": 4.5},
     "encoding": {"x": {"datum": "U"}, "y": {"datum": 62.5, "type": "quantitative"}}},
    {"transform": [{"filter": "datum.t === 'b'"}],
     "mark": {"type": "text", "fontSize": 16.7, "color": "#000000", "baseline": "alphabetic", "dy": -10, "xOffset": 53.5},
     "encoding": {"x": {"datum": "U"}, "y": {"datum": 62.5, "type": "quantitative"}, "text": {"field": "l"}}}
  ]
}
}
